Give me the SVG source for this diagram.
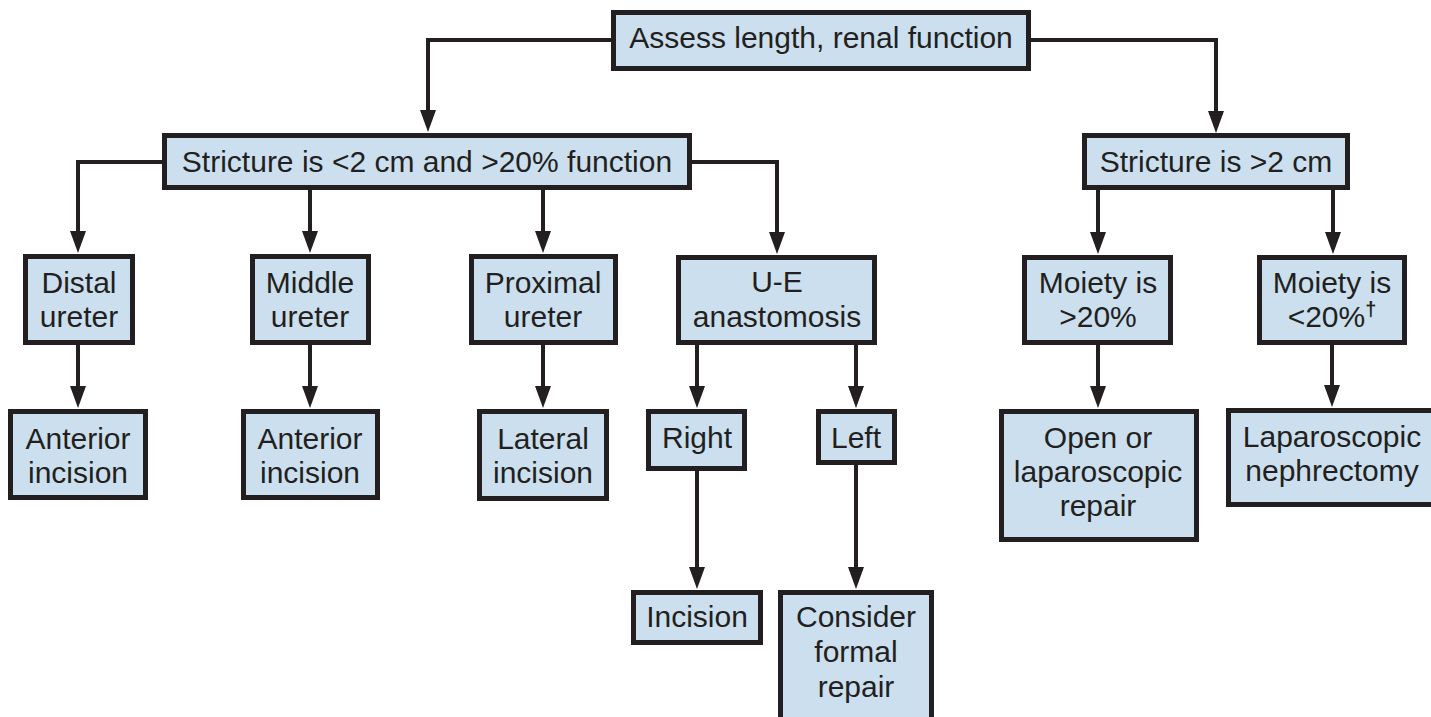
<svg xmlns="http://www.w3.org/2000/svg" width="1431" height="717" viewBox="0 0 1431 717">
<defs>
<style>
.box{fill:#cbdfee;stroke:#231f20;stroke-width:5;stroke-linejoin:miter}
.t{font-family:"Liberation Sans",Arial,Helvetica,sans-serif;font-size:30px;fill:#231f20;text-anchor:middle}
.c{fill:none;stroke:#231f20;stroke-width:4;marker-end:url(#arr)}
</style>
<marker id="arr" viewBox="0 0 22 16" refX="12" refY="8" markerWidth="22" markerHeight="16" markerUnits="userSpaceOnUse" orient="auto">
<path d="M0,0 L22,8 L0,16 z" fill="#231f20"/>
</marker>
</defs>
<rect width="1431" height="717" fill="#ffffff"/>
<g id="connectors">
<path class="c" d="M613,40 H428 V122"/>
<path class="c" d="M1029,40 H1216 V123"/>
<path class="c" d="M164,162 H78 V243"/>
<path class="c" d="M310,188 V243"/>
<path class="c" d="M543,188 V243"/>
<path class="c" d="M690,162 H777 V244"/>
<path class="c" d="M1098,188 V244"/>
<path class="c" d="M1333,188 V244"/>
<path class="c" d="M78,343 V398"/>
<path class="c" d="M310,343 V398"/>
<path class="c" d="M543,343 V398"/>
<path class="c" d="M697,343 V398"/>
<path class="c" d="M856,343 V398"/>
<path class="c" d="M1098,343 V398"/>
<path class="c" d="M1332,343 V397"/>
<path class="c" d="M697,469 V579"/>
<path class="c" d="M856,463 V579"/>
</g>
<g id="assess"><rect class="box" x="613.5" y="12.5" width="415" height="56"/><text class="t" x="821" y="48">Assess length, renal function</text></g>
<g id="stricture-short"><rect class="box" x="164.5" y="135.5" width="525" height="52"/><text class="t" x="427" y="172">Stricture is &lt;2 cm and &gt;20% function</text></g>
<g id="stricture-long"><rect class="box" x="1084.5" y="135.5" width="263" height="52"/><text class="t" x="1216" y="172">Stricture is &gt;2 cm</text></g>
<g id="distal"><rect class="box" x="25.5" y="256.5" width="107" height="86"/><text class="t" x="79" y="293">Distal</text><text class="t" x="79" y="327">ureter</text></g>
<g id="middle"><rect class="box" x="252.5" y="256.5" width="116" height="86"/><text class="t" x="310" y="293">Middle</text><text class="t" x="310" y="327">ureter</text></g>
<g id="proximal"><rect class="box" x="471.5" y="256.5" width="144" height="86"/><text class="t" x="543" y="293">Proximal</text><text class="t" x="543" y="327">ureter</text></g>
<g id="ue"><rect class="box" x="678.5" y="257.5" width="196" height="85"/><text class="t" x="777" y="292">U-E</text><text class="t" x="777" y="327">anastomosis</text></g>
<g id="moiety-high"><rect class="box" x="1024.5" y="257.5" width="146" height="85"/><text class="t" x="1098" y="293">Moiety is</text><text class="t" x="1098" y="327">&gt;20%</text></g>
<g id="moiety-low"><rect class="box" x="1259.5" y="257.5" width="145" height="85"/><text class="t" x="1332" y="293">Moiety is</text><text class="t" x="1332" y="327">&lt;20%<tspan font-size="20" font-weight="bold" dy="-11">†</tspan></text></g>
<g id="anterior1"><rect class="box" x="10.5" y="411.5" width="135" height="86"/><text class="t" x="78" y="449">Anterior</text><text class="t" x="78" y="483">incision</text></g>
<g id="anterior2"><rect class="box" x="243.5" y="411.5" width="134" height="86"/><text class="t" x="310" y="449">Anterior</text><text class="t" x="310" y="483">incision</text></g>
<g id="lateral"><rect class="box" x="479.5" y="411.5" width="127" height="87"/><text class="t" x="543" y="449">Lateral</text><text class="t" x="543" y="483">incision</text></g>
<g id="right"><rect class="box" x="648.5" y="411.5" width="96" height="57"/><text class="t" x="697" y="448">Right</text></g>
<g id="left"><rect class="box" x="818.5" y="411.5" width="76" height="51"/><text class="t" x="856" y="448">Left</text></g>
<g id="open"><rect class="box" x="1001.5" y="411.5" width="195" height="128"/><text class="t" x="1098" y="448">Open or</text><text class="t" x="1098" y="482">laparoscopic</text><text class="t" x="1098" y="516">repair</text></g>
<g id="nephrectomy"><rect class="box" x="1228.5" y="410.5" width="215" height="94"/><text class="t" x="1332" y="447">Laparoscopic</text><text class="t" x="1332" y="481">nephrectomy</text></g>
<g id="incision"><rect class="box" x="633.5" y="592.5" width="127" height="50"/><text class="t" x="697" y="627">Incision</text></g>
<g id="consider"><rect class="box" x="780.5" y="592.5" width="151" height="140"/><text class="t" x="856" y="627">Consider</text><text class="t" x="856" y="662">formal</text><text class="t" x="856" y="697">repair</text></g>
</svg>
